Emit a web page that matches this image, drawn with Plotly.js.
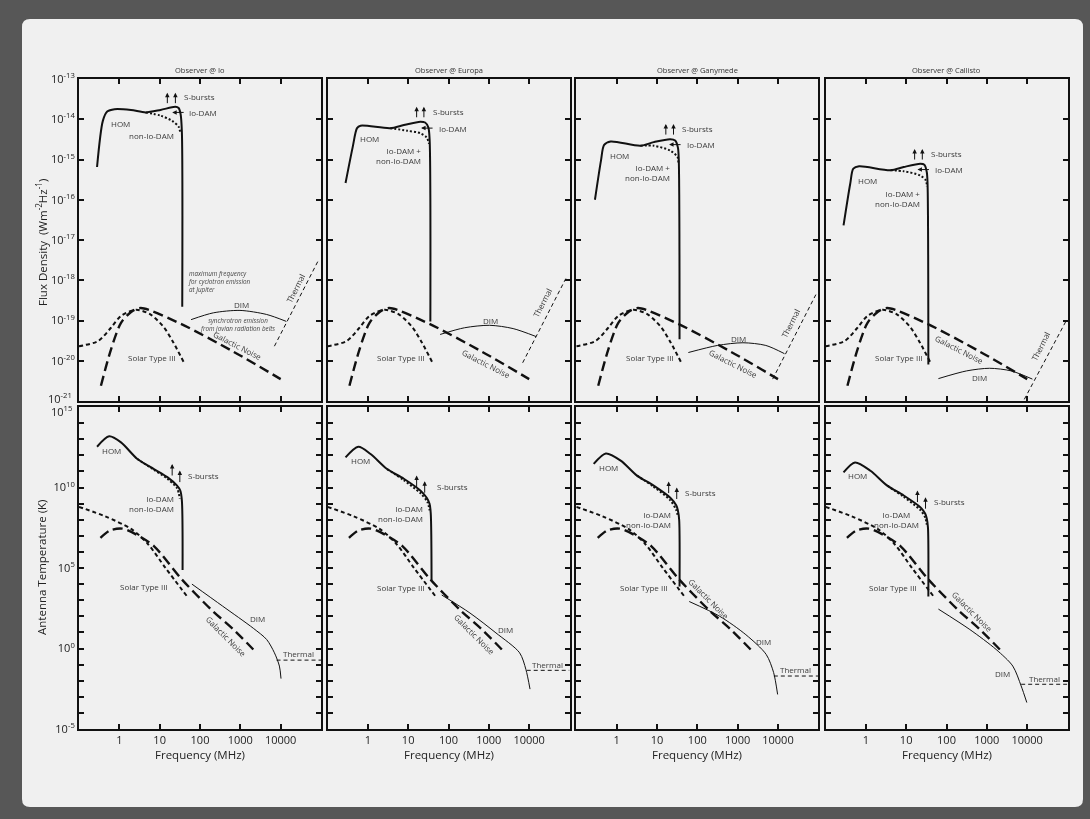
<!DOCTYPE html>
<html>
<head>
<meta charset="utf-8">
<script src="https://cdn.plot.ly/plotly-3.0.1.min.js"></script>
<style>
  html, body { margin: 0; padding: 0; background: #575757; }
  #chart { width: 1090px; height: 819px; filter: grayscale(100%); }
</style>
</head>
<body>
<div id="chart"></div>
<script>
// ---------- Axis ticks ----------
const FREQ_TICKS = [1, 10, 100, 1000, 10000];
const FREQ_TICK_TEXT = ['1', '10', '100', '1000', '10000'];
const FLUX_TICKS = [1e-21, 1e-20, 1e-19, 1e-18, 1e-17, 1e-16, 1e-15, 1e-14, 1e-13];
const FLUX_TICK_TEXT = ['10<sup>-21</sup>', '10<sup>-20</sup>', '10<sup>-19</sup>', '10<sup>-18</sup>',
  '10<sup>-17</sup>', '10<sup>-16</sup>', '10<sup>-15</sup>', '10<sup>-14</sup>', '10<sup>-13</sup>'];
const TEMP_TICKS = [1e-5, 1e-4, 1e-3, 1e-2, 1e-1, 1, 1e1, 1e2, 1e3, 1e4, 1e5, 1e6, 1e7, 1e8, 1e9,
  1e10, 1e11, 1e12, 1e13, 1e14, 1e15];
const TEMP_TICK_TEXT = ['10<sup>-5</sup>', '', '', '', '', '10<sup>0</sup>', '', '', '', '', '10<sup>5</sup>',
  '', '', '', '', '10<sup>10</sup>', '', '', '', '', '10<sup>15</sup>'];

const moons = ['Io', 'Europa', 'Ganymede', 'Callisto'];

// ---------- Background sources shared by every observer (flux density, W m^-2 Hz^-1) ----------
const solarFreqTop = [0.1, 0.3, 0.62, 1.1, 2.6, 6, 13, 22, 40];
const solarFluxTop = [2.3e-20, 3.1e-20, 6.6e-20, 1.3e-19, 1.85e-19, 1.4e-19, 6.6e-20, 2.8e-20, 9e-21];
const galacticFreqTop = [0.35, 0.62, 1.1, 2.0, 3.4, 33, 660, 10000];
const galacticFluxTop = [2.4e-21, 1.9e-20, 8.7e-20, 1.66e-19, 2.05e-19, 8.3e-20, 1.7e-20, 3.5e-21];

// ---------- Background sources shared by every observer (antenna temperature, K) ----------
const solarFreqBottom = [0.1, 0.45, 2.0, 5.0, 14, 48];
const solarTempBottom = [6.3e8, 1.6e8, 2.6e7, 3.3e6, 1e5, 1.7e3];
const galacticFreqBottom = [0.34, 0.6, 1.2, 2.8, 7.2, 34, 190, 680, 2100];
const galacticTempBottom = [7.4e6, 2.2e7, 2.8e7, 1.1e7, 2.3e6, 2.2e4, 2.6e2, 1.5e1, 0.87];

// ---------- Observer @ Io ----------
const homFreqIoTop = [0.28, 0.39, 0.5, 0.76, 1.95, 4.5, 10.5, 24.5, 29.5, 33, 35.5, 36.3];
const homFluxIoTop = [6.5e-16, 9.1e-15, 1.55e-14, 1.78e-14, 1.7e-14, 1.48e-14, 1.7e-14, 2.04e-14, 1.9e-14, 1.35e-14, 5e-15, 2.2e-19];
const damFreqIoTop = [4.5, 10.5, 20.4, 29.5, 32.4];
const damFluxIoTop = [1.48e-14, 1.23e-14, 9.1e-15, 6.5e-15, 4.7e-15];
const dimFreqIoTop = [60, 214, 980, 4500, 13800];
const dimFluxIoTop = [1.05e-19, 1.55e-19, 1.78e-19, 1.41e-19, 9.5e-20];
const thermalFreqIoTop = [7000, 83000];
const thermalFluxIoTop = [2.3e-20, 2.9e-18];

const homFreqIoBottom = [0.28, 0.56, 1.1, 2.8, 7.2, 15.5, 27, 32.4, 35.5, 37];
const homTempIoBottom = [3.4e12, 1.5e13, 6.3e12, 5.9e11, 1.4e11, 4.4e10, 1.3e10, 6.5e9, 1.6e9, 7.6e4];
const damFreqIoBottom = [2.8, 7.2, 15.5, 27, 31.6];
const damTempIoBottom = [5.9e11, 1.26e11, 3.5e10, 8.9e9, 2e9];
const dimFreqIoBottom = [63, 363, 2100, 4500, 7000, 9300, 10200];
const dimTempIoBottom = [1e4, 430, 18, 3.6, 0.54, 0.081, 0.0135];
const thermalFreqIoBottom = [7900, 100000];
const thermalTempIoBottom = [0.19, 0.19];

// ---------- Observer @ Europa ----------
const homFreqEuropaTop = [0.28, 0.42, 0.54, 0.66, 3.6, 7.8, 20, 26.3, 31.6, 34, 35.5];
const homFluxEuropaTop = [2.6e-16, 2e-15, 6e-15, 6.9e-15, 6e-15, 7.2e-15, 8.7e-15, 8.3e-15, 6.3e-15, 3.2e-15, 9.5e-20];
const damFreqEuropaTop = [3.6, 9.3, 20, 28.8, 33];
const damFluxEuropaTop = [6e-15, 5.2e-15, 4.5e-15, 3.5e-15, 2.45e-15];
const dimFreqEuropaTop = [62, 250, 1050, 4000, 14800];
const dimFluxEuropaTop = [4.5e-20, 6.6e-20, 7.6e-20, 6.3e-20, 4e-20];
const thermalFreqEuropaTop = [6900, 81000];
const thermalFluxEuropaTop = [8.9e-21, 1.1e-18];

const homFreqEuropaBottom = [0.28, 0.58, 1.17, 3.0, 7.8, 20, 28.8, 33.9, 36.3, 38];
const homTempEuropaBottom = [7.4e11, 3.4e12, 1.2e12, 1.4e11, 3.5e10, 6.5e9, 2.3e9, 9.8e8, 2.5e8, 1.8e4];
const damFreqEuropaBottom = [3.0, 7.8, 20, 30, 33.9];
const damTempEuropaBottom = [1.4e11, 2.8e10, 4.5e9, 1.26e9, 3.8e8];
const dimFreqEuropaBottom = [68, 340, 1500, 5800, 8300, 10500];
const dimTempEuropaBottom = [2.1e3, 160, 9.3, 0.54, 0.05, 0.003];
const thermalFreqEuropaBottom = [8700, 100000];
const thermalTempEuropaBottom = [0.044, 0.044];

// ---------- Observer @ Ganymede ----------
const homFreqGanymedeTop = [0.29, 0.41, 0.49, 0.71, 3.9, 8.3, 21.4, 28.2, 33, 34.7, 36.3];
const homFluxGanymedeTop = [1e-16, 9.5e-16, 2.3e-15, 2.8e-15, 2.2e-15, 2.7e-15, 3.2e-15, 2.95e-15, 2e-15, 1e-15, 3.4e-20];
const damFreqGanymedeTop = [3.9, 8.3, 21.4, 32.4, 34];
const damFluxGanymedeTop = [2.2e-15, 2.2e-15, 1.66e-15, 1.15e-15, 7.9e-16];
const dimFreqGanymedeTop = [60, 316, 1350, 5000, 14500];
const dimFluxGanymedeTop = [1.6e-20, 2.4e-20, 2.8e-20, 2.4e-20, 1.5e-20];
const thermalFreqGanymedeTop = [7400, 87000];
const thermalFluxGanymedeTop = [3.5e-21, 4.4e-19];

const homFreqGanymedeBottom = [0.27, 0.54, 1.26, 3.2, 8.3, 21.4, 30, 33, 35.5, 36.3];
const homTempGanymedeBottom = [2.9e11, 1.3e12, 4.7e11, 5.5e10, 1.3e10, 2.3e9, 7.8e8, 3.8e8, 1e8, 7.1e3];
const damFreqGanymedeBottom = [3.2, 8.3, 21.4, 30, 33];
const damTempGanymedeBottom = [5.5e10, 1.1e10, 1.6e9, 4e8, 1.6e8];
const dimFreqGanymedeBottom = [63, 360, 1600, 5100, 7800, 9800];
const dimTempGanymedeBottom = [830, 100, 7.2, 0.43, 0.032, 0.0014];
const thermalFreqGanymedeBottom = [7900, 100000];
const thermalTempGanymedeBottom = [0.0195, 0.0195];

// ---------- Observer @ Callisto ----------
const homFreqCallistoTop = [0.28, 0.41, 0.49, 0.68, 4.1, 8.7, 22.4, 28.2, 32.4, 33.9, 35.5];
const homFluxCallistoTop = [2.3e-17, 2.5e-16, 5.9e-16, 6.8e-16, 5.4e-16, 6.5e-16, 7.8e-16, 7.4e-16, 4.9e-16, 2.5e-16, 8.1e-21];
const damFreqCallistoTop = [4.1, 8.7, 22.4, 31, 32.4];
const damFluxCallistoTop = [5.4e-16, 5.1e-16, 4e-16, 3e-16, 2.1e-16];
const dimFreqCallistoTop = [63, 316, 1170, 4000, 13500];
const dimFluxCallistoTop = [3.6e-21, 5.6e-21, 6.5e-21, 5.6e-21, 3.5e-21];
const thermalFreqCallistoTop = [8500, 91000];
const thermalFluxCallistoTop = [1.1e-21, 9.5e-20];

const homFreqCallistoBottom = [0.28, 0.54, 1.3, 3.4, 8.7, 22.4, 29.5, 32.4, 34.7, 35.5];
const homTempCallistoBottom = [8.7e10, 3.6e11, 1.1e11, 1.3e10, 3.2e9, 6e8, 2.4e8, 1.2e8, 3.2e7, 1.7e3];
const damFreqCallistoBottom = [3.4, 8.7, 22.4, 30, 32.4];
const damTempCallistoBottom = [1.3e10, 2.6e9, 4e8, 1.26e8, 5e7];
const dimFreqCallistoBottom = [63, 380, 1700, 4400, 7100, 9800];
const dimTempCallistoBottom = [280, 15, 0.87, 0.081, 0.0047, 0.00044];
const thermalFreqCallistoBottom = [7100, 100000];
const thermalTempCallistoBottom = [0.006, 0.006];

// ---------- Panel assembly ----------
const topPanels = [
  { hom: [homFreqIoTop, homFluxIoTop], dam: [damFreqIoTop, damFluxIoTop], dim: [dimFreqIoTop, dimFluxIoTop], thermal: [thermalFreqIoTop, thermalFluxIoTop] },
  { hom: [homFreqEuropaTop, homFluxEuropaTop], dam: [damFreqEuropaTop, damFluxEuropaTop], dim: [dimFreqEuropaTop, dimFluxEuropaTop], thermal: [thermalFreqEuropaTop, thermalFluxEuropaTop] },
  { hom: [homFreqGanymedeTop, homFluxGanymedeTop], dam: [damFreqGanymedeTop, damFluxGanymedeTop], dim: [dimFreqGanymedeTop, dimFluxGanymedeTop], thermal: [thermalFreqGanymedeTop, thermalFluxGanymedeTop] },
  { hom: [homFreqCallistoTop, homFluxCallistoTop], dam: [damFreqCallistoTop, damFluxCallistoTop], dim: [dimFreqCallistoTop, dimFluxCallistoTop], thermal: [thermalFreqCallistoTop, thermalFluxCallistoTop] }
];
const bottomPanels = [
  { hom: [homFreqIoBottom, homTempIoBottom], dam: [damFreqIoBottom, damTempIoBottom], dim: [dimFreqIoBottom, dimTempIoBottom], thermal: [thermalFreqIoBottom, thermalTempIoBottom] },
  { hom: [homFreqEuropaBottom, homTempEuropaBottom], dam: [damFreqEuropaBottom, damTempEuropaBottom], dim: [dimFreqEuropaBottom, dimTempEuropaBottom], thermal: [thermalFreqEuropaBottom, thermalTempEuropaBottom] },
  { hom: [homFreqGanymedeBottom, homTempGanymedeBottom], dam: [damFreqGanymedeBottom, damTempGanymedeBottom], dim: [dimFreqGanymedeBottom, dimTempGanymedeBottom], thermal: [thermalFreqGanymedeBottom, thermalTempGanymedeBottom] },
  { hom: [homFreqCallistoBottom, homTempCallistoBottom], dam: [damFreqCallistoBottom, damTempCallistoBottom], dim: [dimFreqCallistoBottom, dimTempCallistoBottom], thermal: [thermalFreqCallistoBottom, thermalTempCallistoBottom] }
];

const FONT = '"Open Sans", "Noto Sans", sans-serif';
const INK = '#111';
const TEXT = '#3a3a3a';
const W = 1090, H = 819;

const STYLE = {
  hom:      { color: INK, width: 2 },
  dam:      { color: INK, width: 2, dash: '2px,2px' },
  solar:    { color: INK, width: 2, dash: '4px,3px' },
  galactic: { color: INK, width: 2.4, dash: '10px,5px' },
  dim:      { color: INK, width: 1 },
  thermal:  { color: INK, width: 1, dash: '4px,3px' }
};

const xn = i => (i === 0 ? 'x' : 'x' + (i + 1));
const yn = i => (i === 0 ? 'y' : 'y' + (i + 1));

function curve(pair, axis, style, shape) {
  return {
    type: 'scatter', mode: 'lines', x: pair[0], y: pair[1],
    xaxis: xn(axis), yaxis: yn(axis), hoverinfo: 'skip', showlegend: false,
    line: Object.assign({ shape: shape || 'spline', smoothing: 0.8 }, style)
  };
}

const traces = [];
topPanels.forEach((p, i) => {
  traces.push(curve([solarFreqTop, solarFluxTop], i, STYLE.solar));
  traces.push(curve([galacticFreqTop, galacticFluxTop], i, STYLE.galactic));
  traces.push(curve(p.dim, i, STYLE.dim));
  traces.push(curve(p.thermal, i, STYLE.thermal, 'linear'));
  traces.push(curve(p.dam, i, STYLE.dam));
  traces.push(curve(p.hom, i, STYLE.hom));
});
bottomPanels.forEach((p, k) => {
  const i = k + 4;
  traces.push(curve([solarFreqBottom, solarTempBottom], i, STYLE.solar));
  traces.push(curve([galacticFreqBottom, galacticTempBottom], i, STYLE.galactic));
  traces.push(curve(p.dim, i, STYLE.dim));
  traces.push(curve(p.thermal, i, STYLE.thermal, 'linear'));
  traces.push(curve(p.dam, i, STYLE.dam));
  traces.push(curve(p.hom, i, STYLE.hom));
});

// ---------- Layout: 2 rows x 4 columns of framed log-log panels ----------
// Frame line centres (px); Plotly draws axis lines just outside the plot area,
// so each domain is inset by half the line width.
const LINE_W = 2;
const frameLeft = [78, 326.5, 575.3, 824.5];
const frameWidth = 244;
const topFrame = [78, 402];
const bottomFrame = [406, 730];
const inset = LINE_W / 2;
const topRow = [1 - (topFrame[1] - inset) / H, 1 - (topFrame[0] + inset) / H];
const bottomRow = [1 - (bottomFrame[1] - inset) / H, 1 - (bottomFrame[0] + inset) / H];

const layout = {
  width: W, height: H,
  margin: { l: 0, r: 0, t: 0, b: 0 },
  paper_bgcolor: '#575757',
  plot_bgcolor: 'rgba(0,0,0,0)',
  font: { family: FONT, color: '#222' },
  showlegend: false,
  annotations: [],
  shapes: []
};

const TICK_FONT = { family: FONT, size: 11, color: '#222' };

function frameAxis(extra) {
  return Object.assign({
    type: 'log', showline: true, linecolor: INK, linewidth: LINE_W, mirror: 'ticks',
    ticks: 'inside', ticklen: 5, tickwidth: 2, tickcolor: INK,
    showgrid: false, zeroline: false, fixedrange: true,
    tickfont: TICK_FONT
  }, extra);
}

// The lowest flux label and the highest temperature label sit where the two rows meet,
// so they are placed as separate labels nudged apart.
const fluxAxisText = FLUX_TICK_TEXT.map((t, k) => (k === 0 ? '' : t));
const tempAxisText = TEMP_TICK_TEXT.map((t, k) => (k === TEMP_TICK_TEXT.length - 1 ? '' : t));

for (let i = 0; i < 8; i++) {
  const col = i % 4;
  const bottom = i >= 4;
  const xd = [(frameLeft[col] + inset) / W, (frameLeft[col] + frameWidth - inset) / W];
  layout['xaxis' + (i === 0 ? '' : i + 1)] = frameAxis({
    domain: xd, range: [-1, 5], anchor: yn(i),
    tickmode: 'array', tickvals: FREQ_TICKS, ticktext: FREQ_TICK_TEXT,
    showticklabels: bottom
  });
  layout['yaxis' + (i === 0 ? '' : i + 1)] = frameAxis(bottom ? {
    domain: bottomRow, range: [-5, 15], anchor: xn(i),
    tickmode: 'array', tickvals: TEMP_TICKS, ticktext: tempAxisText,
    showticklabels: col === 0
  } : {
    domain: topRow, range: [-21, -13], anchor: xn(i),
    tickmode: 'array', tickvals: FLUX_TICKS, ticktext: fluxAxisText,
    showticklabels: col === 0
  });
}

// Rounded card behind the panels
(function () {
  const x0 = 22 / W, x1 = 1083 / W, y0 = 1 - 807 / H, y1 = 1 - 19 / H;
  const rx = 8 / W, ry = 8 / H;
  layout.shapes.push({
    type: 'path', xref: 'paper', yref: 'paper', layer: 'below',
    fillcolor: '#f0f0ee', line: { width: 0 },
    path: `M ${x0 + rx},${y1} L ${x1 - rx},${y1} Q ${x1},${y1} ${x1},${y1 - ry} ` +
          `L ${x1},${y0 + ry} Q ${x1},${y0} ${x1 - rx},${y0} L ${x0 + rx},${y0} ` +
          `Q ${x0},${y0} ${x0},${y0 + ry} L ${x0},${y1 - ry} Q ${x0},${y1} ${x0 + rx},${y1} Z`
  });
})();

// ---------- Text ----------
const ann = layout.annotations;
function label(axis, text, x, y, opts) {
  ann.push(Object.assign({
    xref: xn(axis), yref: yn(axis), x: x, y: y, text: text, showarrow: false,
    xanchor: 'center', yanchor: 'middle',
    font: { family: FONT, size: 8, color: TEXT }
  }, opts || {}));
}
function arrow(axis, x, y, ax, ay) {
  ann.push({
    xref: xn(axis), yref: yn(axis), x: x, y: y, ax: ax, ay: ay, text: '',
    showarrow: true, arrowhead: 2, arrowsize: 0.9, arrowwidth: 1, arrowcolor: INK
  });
}

ann.push({
  xref: 'paper', yref: 'paper', x: 74 / W, y: 1 - 398 / H, text: FLUX_TICK_TEXT[0],
  showarrow: false, xanchor: 'right', yanchor: 'middle', font: TICK_FONT
});
ann.push({
  xref: 'paper', yref: 'paper', x: 74 / W, y: 1 - 411 / H, text: TEMP_TICK_TEXT[TEMP_TICK_TEXT.length - 1],
  showarrow: false, xanchor: 'right', yanchor: 'middle', font: TICK_FONT
});

moons.forEach((m, i) => {
  ann.push({
    xref: xn(i) + ' domain', yref: 'paper', x: 0.5, y: 1 - 70 / H, text: 'Observer @ ' + m,
    showarrow: false, xanchor: 'center', yanchor: 'middle',
    font: { family: FONT, size: 7.5, color: '#333' }
  });
  ann.push({
    xref: xn(i + 4) + ' domain', yref: 'paper', x: 0.5, y: 1 - 754 / H, text: 'Frequency (MHz)',
    showarrow: false, xanchor: 'center', yanchor: 'middle',
    font: { family: FONT, size: 11.5, color: '#222' }
  });
});

ann.push({
  xref: 'paper', yref: 'paper', x: 41 / W, y: 1 - 243 / H, textangle: -90,
  text: 'Flux Density  (Wm<sup>-2</sup>Hz<sup>-1</sup>)', showarrow: false,
  xanchor: 'center', yanchor: 'middle', font: { family: FONT, size: 11.5, color: '#222' }
});
ann.push({
  xref: 'paper', yref: 'paper', x: 41 / W, y: 1 - 567 / H, textangle: -90,
  text: 'Antenna Temperature (K)', showarrow: false,
  xanchor: 'center', yanchor: 'middle', font: { family: FONT, size: 11.5, color: '#222' }
});

const italic = { family: FONT, size: 6.3, color: '#444' };
const left = { xanchor: 'left' };
const right = { xanchor: 'right', align: 'right' };

// Observer @ Io — flux density
label(0, 'HOM', 0.04, -14.10);
label(0, 'non-Io-DAM', 1.41, -14.41, right);
arrow(0, 1.19, -13.34, 0, 12); arrow(0, 1.39, -13.34, 0, 12);
label(0, 'S-bursts', 1.56, -13.44, left);
arrow(0, 1.31, -13.83, 13, 0);
label(0, 'Io-DAM', 1.68, -13.83, left);
label(0, '<i>maximum frequency<br>for cyclotron emission<br>at Jupiter</i>', 1.66, -18.02, { xanchor: 'left', align: 'left', font: italic });
label(0, 'DIM', 3.03, -18.60);
label(0, '<i>synchrotron emission<br>from jovian radiation belts</i>', 2.94, -19.10, { font: italic });
label(0, 'Galactic Noise', 2.94, -19.63, { textangle: 27 });
label(0, 'Thermal', 4.38, -18.19, { textangle: -63 });
label(0, 'Solar Type III', 0.82, -19.92);

// Observer @ Europa — flux density
label(1, 'HOM', 0.05, -14.49);
label(1, 'Io-DAM +<br>non-Io-DAM', 1.38, -14.91, right);
arrow(1, 1.21, -13.69, 0, 12); arrow(1, 1.39, -13.69, 0, 12);
label(1, 'S-bursts', 1.57, -13.81, left);
arrow(1, 1.32, -14.22, 13, 0);
label(1, 'Io-DAM', 1.71, -14.22, left);
label(1, 'DIM', 3.04, -19.0);
label(1, 'Galactic Noise', 2.94, -20.06, { textangle: 27 });
label(1, 'Thermal', 4.33, -18.56, { textangle: -63 });
label(1, 'Solar Type III', 0.83, -19.92);

// Observer @ Ganymede — flux density
label(2, 'HOM', 0.06, -14.90);
label(2, 'Io-DAM +<br>non-Io-DAM', 1.37, -15.33, right);
arrow(2, 1.22, -14.12, 0, 12); arrow(2, 1.41, -14.12, 0, 12);
label(2, 'S-bursts', 1.57, -14.24, left);
arrow(2, 1.30, -14.63, 13, 0);
label(2, 'Io-DAM', 1.70, -14.63, left);
label(2, 'DIM', 3.02, -19.45);
label(2, 'Galactic Noise', 2.90, -20.07, { textangle: 27 });
label(2, 'Thermal', 4.32, -19.06, { textangle: -63 });
label(2, 'Solar Type III', 0.83, -19.92);

// Observer @ Callisto — flux density
label(3, 'HOM', 0.04, -15.52);
label(3, 'Io-DAM +<br>non-Io-DAM', 1.39, -15.97, right);
arrow(3, 1.21, -14.74, 0, 12); arrow(3, 1.40, -14.74, 0, 12);
label(3, 'S-bursts', 1.57, -14.86, left);
arrow(3, 1.28, -15.25, 13, 0);
label(3, 'Io-DAM', 1.66, -15.25, left);
label(3, 'Galactic Noise', 2.33, -19.72, { textangle: 27 });
label(3, 'DIM', 2.82, -20.41);
label(3, 'Thermal', 4.34, -19.63, { textangle: -63 });
label(3, 'Solar Type III', 0.83, -19.92);

// Antenna temperature row
label(4, 'HOM', -0.19, 12.28);
arrow(4, 1.31, 11.46, 0, 13); arrow(4, 1.50, 11.05, 0, 13);
label(4, 'S-bursts', 1.66, 10.74, left);
label(4, 'Io-DAM<br>non-Io-DAM', 1.41, 9.02, right);
label(4, 'Solar Type III', 0.61, 3.85);
label(4, 'Galactic Noise', 2.66, 0.76, { textangle: 45 });
label(4, 'DIM', 3.42, 1.85);
label(4, 'Thermal', 4.45, -0.31);

label(5, 'HOM', -0.19, 11.67);
arrow(5, 1.21, 10.74, 0, 13); arrow(5, 1.41, 10.39, 0, 13);
label(5, 'S-bursts', 1.67, 10.06, left);
label(5, 'Io-DAM<br>non-Io-DAM', 1.42, 8.38, right);
label(5, 'Solar Type III', 0.83, 3.81);
label(5, 'Galactic Noise', 2.65, 0.86, { textangle: 45 });
label(5, 'DIM', 3.42, 1.17);
label(5, 'Thermal', 4.45, -0.99);

label(6, 'HOM', -0.20, 11.22);
arrow(6, 1.29, 10.37, 0, 13); arrow(6, 1.49, 10.0, 0, 13);
label(6, 'S-bursts', 1.65, 9.71, left);
label(6, 'Io-DAM<br>non-Io-DAM', 1.40, 8.0, right);
label(6, 'Solar Type III', 0.68, 3.81);
label(6, 'Galactic Noise', 2.29, 3.13, { textangle: 45 });
label(6, 'DIM', 3.65, 0.41);
label(6, 'Thermal', 4.43, -1.30);

label(7, 'HOM', -0.21, 10.74);
arrow(7, 1.28, 9.81, 0, 13); arrow(7, 1.48, 9.40, 0, 13);
label(7, 'S-bursts', 1.64, 9.15, left);
label(7, 'Io-DAM<br>non-Io-DAM', 0.75, 8.04);
label(7, 'Solar Type III', 0.68, 3.81);
label(7, 'Galactic Noise', 2.64, 2.30, { textangle: 45 });
label(7, 'DIM', 3.40, -1.54);
label(7, 'Thermal', 4.42, -1.87);

Plotly.newPlot('chart', traces, layout, { displayModeBar: false, staticPlot: true });
</script>
</body>
</html>
